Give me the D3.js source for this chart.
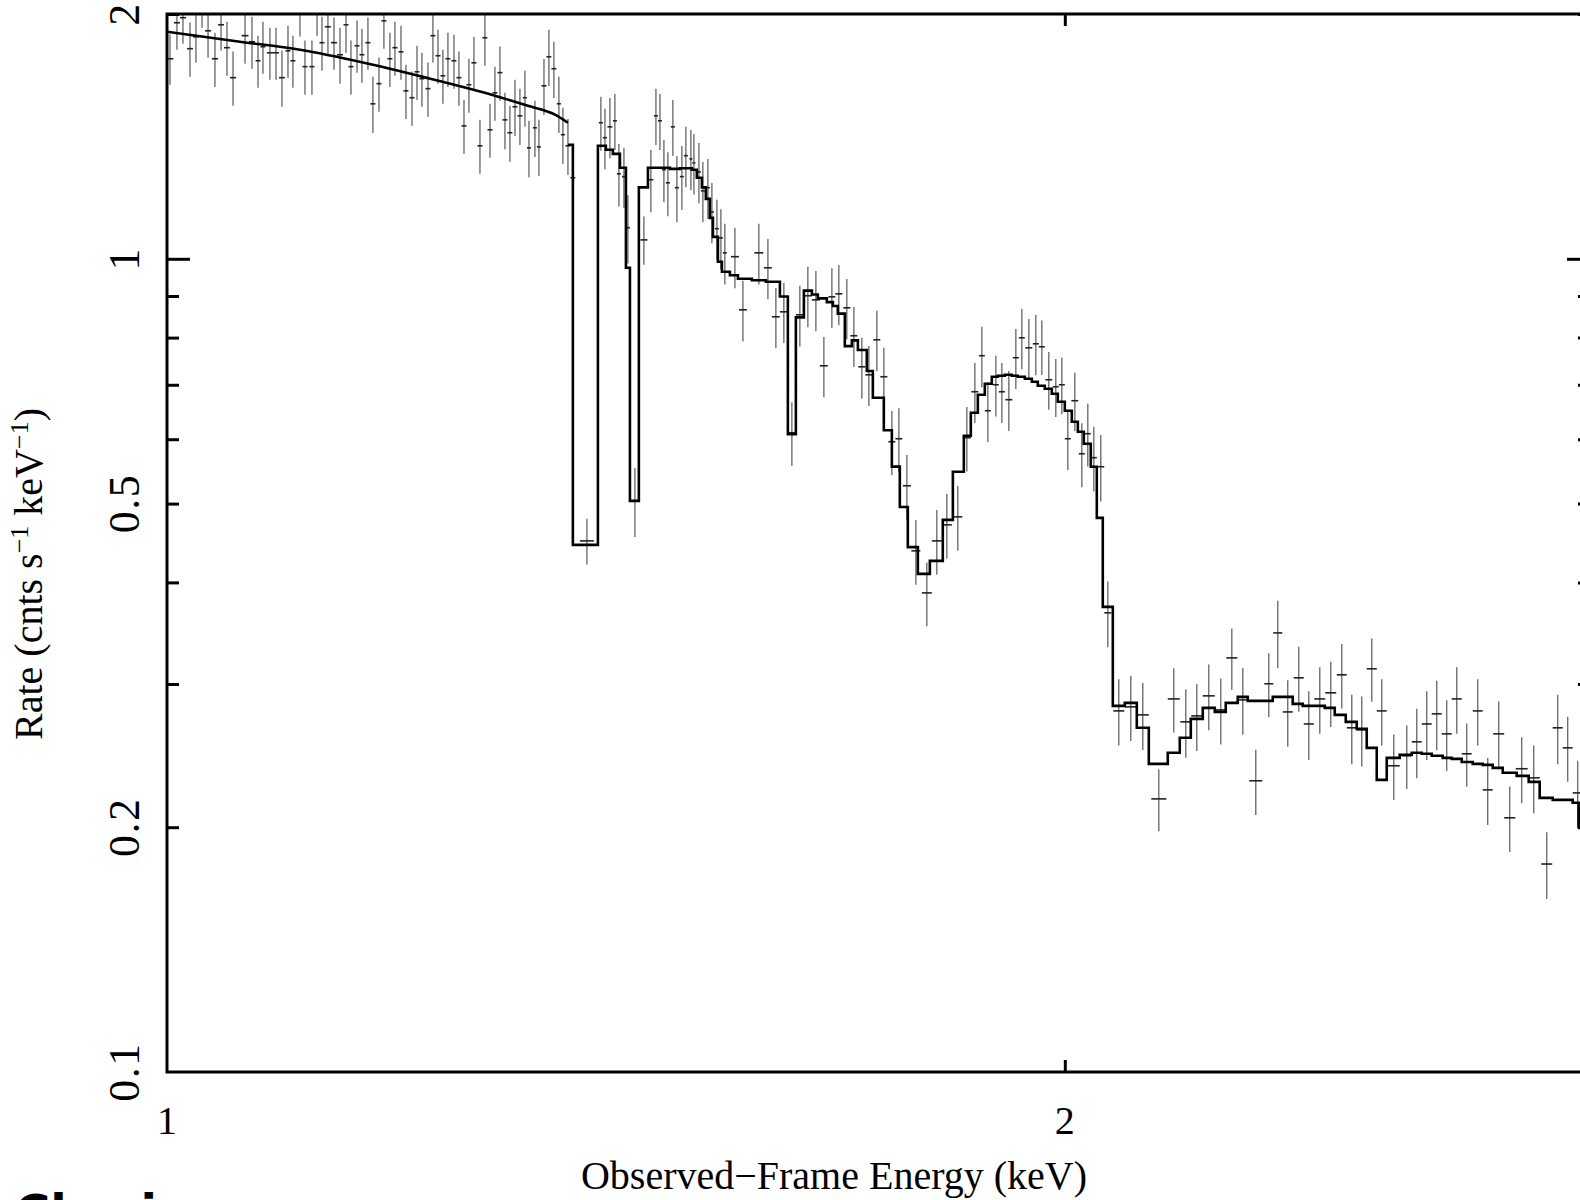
<!DOCTYPE html>
<html>
<head>
<meta charset="utf-8">
<script src="https://cdn.jsdelivr.net/npm/d3@7"></script>
<style>
  html, body { margin: 0; padding: 0; background: #ffffff; }
  svg { display: block; }
</style>
</head>
<body>
<div id="chart"></div>
<script>
// observed spectrum: bin centre (keV), rate and 1-sigma error (cnts/s/keV)
const energy = [
  1.0023, 1.0077, 1.0124, 1.0179, 1.0226, 1.0274, 1.0322, 1.0377, 1.0426, 1.0474,
  1.0523, 1.0621, 1.0678, 1.0728, 1.0769, 1.0827, 1.0878, 1.0928, 1.0979, 1.1021,
  1.1081, 1.1124, 1.1184, 1.1228, 1.1271, 1.1323, 1.1376, 1.1429, 1.1482, 1.1526,
  1.1580, 1.1624, 1.1678, 1.1723, 1.1778, 1.1823, 1.1878, 1.1924, 1.1980, 1.2026,
  1.2082, 1.2129, 1.2175, 1.2232, 1.2279, 1.2327, 1.2374, 1.2422, 1.2480, 1.2528,
  1.2577, 1.2625, 1.2674, 1.2733, 1.2782, 1.2832, 1.2881, 1.2931, 1.2981, 1.3031,
  1.3082, 1.3132, 1.3183, 1.3224, 1.3285, 1.3326, 1.3378, 1.3429, 1.3481, 1.3533,
  1.3575, 1.3628, 1.3680, 1.3829, 1.3979, 1.4023, 1.4077, 1.4131, 1.4175, 1.4230,
  1.4274, 1.4351, 1.4451, 1.4529, 1.4586, 1.4631, 1.4676, 1.4721, 1.4778, 1.4824,
  1.4881, 1.4927, 1.4985, 1.5020, 1.5078, 1.5124, 1.5183, 1.5230, 1.5289, 1.5336,
  1.5383, 1.5503, 1.5599, 1.5792, 1.5903, 1.6001, 1.6100, 1.6200, 1.6300, 1.6401,
  1.6503, 1.6605, 1.6708, 1.6798, 1.6902, 1.6994, 1.7099, 1.7192, 1.7298, 1.7392,
  1.7500, 1.7595, 1.7704, 1.7827, 1.7979, 1.8118, 1.8259, 1.8414, 1.8543, 1.8658,
  1.8759, 1.8846, 1.8963, 1.9051, 1.9154, 1.9258, 1.9347, 1.9452, 1.9557, 1.9648,
  1.9754, 1.9861, 1.9954, 2.0046, 2.0155, 2.0264, 2.0358, 2.0453, 2.0563, 2.0675,
  2.0851, 2.1045, 2.1241, 2.1505, 2.1755, 2.1958, 2.2145, 2.2351, 2.2559, 2.2752,
  2.2946, 2.3177, 2.3411, 2.3574, 2.3756, 2.3959, 2.4145, 2.4351, 2.4558, 2.4768,
  2.4960, 2.5153, 2.5348, 2.5544, 2.5782, 2.6042, 2.6244, 2.6447, 2.6652, 2.6858,
  2.7067, 2.7276, 2.7509, 2.7722, 2.7958, 2.8197, 2.8459, 2.8724, 2.9014, 2.9261,
  2.9488, 2.9716
];
const rate = [
  1.762, 1.951, 1.979, 1.813, 1.875, 2.071, 1.907, 1.762, 1.940, 1.818,
  1.670, 1.881, 1.849, 1.752, 1.823, 1.792, 1.792, 1.670, 1.802, 1.752,
  2.019, 1.723, 1.723, 2.024, 1.844, 1.929, 1.844, 1.782, 1.940, 1.723,
  1.828, 1.782, 1.844, 1.551, 1.642, 1.962, 1.762, 1.818, 1.797, 1.609,
  1.578, 1.698, 1.665, 1.619, 1.881, 1.777, 1.679, 1.762, 1.752, 1.670,
  1.457, 1.637, 1.742, 1.377, 1.870, 1.441, 1.600, 1.694, 1.482, 1.429,
  1.538, 1.499, 1.578, 1.369, 1.449, 1.373, 1.632, 1.772, 1.713, 1.551,
  1.421, 1.377, 1.258, 0.4499, 1.470, 1.409, 1.453, 1.478, 1.272, 1.262,
  1.092, 0.5039, 1.055, 1.251, 1.499, 1.478, 1.287, 1.240, 1.453, 1.223,
  1.262, 1.339, 1.327, 1.312, 1.279, 1.212, 1.223, 1.142, 1.089, 1.061,
  1.017, 1.006, 0.8655, 1.017, 0.9748, 0.8486, 0.8606, 0.6111, 0.8533, 0.9006,
  0.8903, 0.7386, 0.8979, 0.9056, 0.8704, 0.8042, 0.7365, 0.7200, 0.7951, 0.7161,
  0.5957, 0.6008, 0.5259, 0.4374, 0.3883, 0.4499, 0.4708, 0.4816, 0.6025, 0.6863,
  0.7600, 0.6504, 0.7000, 0.6863, 0.6710, 0.7557, 0.7996, 0.7773, 0.7861, 0.7795,
  0.7100, 0.6961, 0.7000, 0.6008, 0.6691, 0.5758, 0.6094, 0.5694, 0.5550, 0.3670,
  0.2780, 0.2812, 0.2749, 0.2167, 0.2876, 0.2695, 0.2741, 0.2901, 0.2788, 0.3230,
  0.2868, 0.2281, 0.3002, 0.3467, 0.2772, 0.3053, 0.2679, 0.2876, 0.2926, 0.3079,
  0.2650, 0.2635, 0.3132, 0.2780, 0.2380, 0.2448, 0.2547, 0.2679, 0.2757, 0.2605,
  0.2876, 0.2462, 0.2780, 0.2223, 0.2605, 0.2054, 0.2360, 0.2300, 0.1802, 0.2650,
  0.2504, 0.2204
];
const rateErr = [
  0.125, 0.144, 0.140, 0.139, 0.133, 0.147, 0.140, 0.135, 0.137, 0.139,
  0.128, 0.144, 0.136, 0.129, 0.134, 0.132, 0.132, 0.132, 0.133, 0.129,
  0.143, 0.132, 0.132, 0.143, 0.141, 0.142, 0.136, 0.141, 0.148, 0.132,
  0.135, 0.136, 0.136, 0.123, 0.126, 0.150, 0.135, 0.139, 0.137, 0.123,
  0.121, 0.130, 0.127, 0.124, 0.138, 0.136, 0.128, 0.135, 0.134, 0.128,
  0.111, 0.125, 0.133, 0.105, 0.143, 0.110, 0.122, 0.130, 0.118, 0.113,
  0.122, 0.119, 0.125, 0.109, 0.115, 0.109, 0.129, 0.141, 0.136, 0.123,
  0.113, 0.109, 0.114, 0.029, 0.112, 0.120, 0.124, 0.117, 0.112, 0.107,
  0.105, 0.049, 0.072, 0.110, 0.119, 0.117, 0.113, 0.112, 0.115, 0.114,
  0.114, 0.114, 0.113, 0.112, 0.109, 0.103, 0.104, 0.097, 0.093, 0.090,
  0.087, 0.086, 0.074, 0.087, 0.083, 0.072, 0.073, 0.055, 0.073, 0.077,
  0.076, 0.063, 0.076, 0.077, 0.074, 0.068, 0.063, 0.061, 0.068, 0.061,
  0.054, 0.054, 0.048, 0.040, 0.035, 0.041, 0.043, 0.044, 0.055, 0.058,
  0.065, 0.055, 0.060, 0.058, 0.057, 0.064, 0.068, 0.066, 0.067, 0.060,
  0.058, 0.057, 0.056, 0.051, 0.055, 0.052, 0.054, 0.052, 0.052, 0.034,
  0.026, 0.026, 0.026, 0.019, 0.026, 0.026, 0.026, 0.027, 0.026, 0.028,
  0.027, 0.021, 0.027, 0.033, 0.026, 0.028, 0.026, 0.027, 0.027, 0.028,
  0.026, 0.026, 0.028, 0.026, 0.022, 0.022, 0.025, 0.026, 0.027, 0.026,
  0.027, 0.022, 0.026, 0.021, 0.025, 0.019, 0.022, 0.022, 0.017, 0.026,
  0.023, 0.021
];

// folded model: smooth continuum part, then stepped part (left bin edge, value)
const modelCurveE = [1.0, 1.0580, 1.1081, 1.1642, 1.2175, 1.2881, 1.3213, 1.3492, 1.3628];
const modelCurveR = [1.902, 1.849, 1.807, 1.742, 1.675, 1.587, 1.542, 1.504, 1.470];
const modelStepE = [
  1.3628, 1.3680, 1.3947, 1.4033, 1.4109, 1.4186, 1.4252, 1.4296, 1.4395, 1.4496,
  1.4744, 1.4858, 1.4996, 1.5054, 1.5113, 1.5159, 1.5206, 1.5242, 1.5301, 1.5348,
  1.5443, 1.5539, 1.5707, 1.5878, 1.6051, 1.6150, 1.6250, 1.6351, 1.6452, 1.6528,
  1.6643, 1.6721, 1.6785, 1.6876, 1.6968, 1.7047, 1.7165, 1.7245, 1.7392, 1.7500,
  1.7608, 1.7717, 1.7855, 1.8021, 1.8202, 1.8344, 1.8500, 1.8600, 1.8701, 1.8802,
  1.8904, 1.8992, 1.9095, 1.9198, 1.9287, 1.9392, 1.9497, 1.9587, 1.9693, 1.9800,
  1.9892, 2.0000, 2.0108, 2.0202, 2.0295, 2.0405, 2.0500, 2.0595, 2.0755, 2.0948,
  2.1143, 2.1340, 2.1655, 2.1856, 2.2043, 2.2248, 2.2455, 2.2646, 2.2857, 2.3034,
  2.3483, 2.3848, 2.4033, 2.4445, 2.4634, 2.4844, 2.5056, 2.5250, 2.5446, 2.5643,
  2.5901, 2.6143, 2.6345, 2.6549, 2.6776, 2.6962, 2.7171, 2.7403, 2.7615, 2.7829,
  2.8045, 2.8349, 2.8613, 2.8857, 2.9148, 2.9602, 2.9739, 3.0
];
const modelStepR = [
  1.381, 0.4449, 1.377, 1.362, 1.346, 1.294, 0.9748, 0.5039, 1.224, 1.294,
  1.290, 1.292, 1.287, 1.258, 1.224, 1.185, 1.123, 1.064, 0.9916, 0.9638,
  0.9543, 0.9450, 0.9410, 0.9370, 0.8989, 0.6087, 0.8471, 0.9137, 0.9038, 0.8941,
  0.8845, 0.8749, 0.8562, 0.7810, 0.7937, 0.7725, 0.7278, 0.6748, 0.6154, 0.5552,
  0.4952, 0.4420, 0.4098, 0.4252, 0.4775, 0.5472, 0.6059, 0.6467, 0.6805, 0.7020,
  0.7161, 0.7180, 0.7200, 0.7180, 0.7161, 0.7120, 0.7060, 0.6981, 0.6922, 0.6824,
  0.6672, 0.6504, 0.6304, 0.6128, 0.5923, 0.5550, 0.4802, 0.3732, 0.2820, 0.2844,
  0.2650, 0.2393, 0.2469, 0.2576, 0.2718, 0.2804, 0.2772, 0.2844, 0.2893, 0.2860,
  0.2893, 0.2836, 0.2820, 0.2804, 0.2749, 0.2695, 0.2642, 0.2504, 0.2287, 0.2434,
  0.2455, 0.2469, 0.2462, 0.2448, 0.2434, 0.2427, 0.2406, 0.2393, 0.2386, 0.2366,
  0.2333, 0.2313, 0.2274, 0.2173, 0.2161, 0.2143, 0.2002, 0.2002
];

const xDomain = [1, 3];
const yDomain = [0.1, 2];
const xTickLabels = [1, 2];
const xMinorTicks = [2];
const yTickLabels = [0.1, 0.2, 0.5, 1, 2];
const yMajorTicks = [1];
const yMinorTicks = [0.2, 0.3, 0.4, 0.5, 0.6, 0.7, 0.8, 0.9, 2];

const width = 1580;
const height = 1200;
const margin = { left: 167, right: 1590, top: 14, bottom: 1072 };
const serif = "'Liberation Serif', 'Times New Roman', serif";

const svg = d3.select("#chart")
  .append("svg")
  .attr("width", width)
  .attr("height", height)
  .style("background", "#ffffff");

const xScale = d3.scaleLog().domain(xDomain).range([margin.left, margin.right]);
const yScale = d3.scaleLog().domain(yDomain).range([margin.bottom, margin.top]);

svg.append("clipPath").attr("id", "plotArea")
  .append("rect")
  .attr("x", margin.left).attr("y", margin.top)
  .attr("width", margin.right - margin.left).attr("height", margin.bottom - margin.top);

const plot = svg.append("g").attr("clip-path", "url(#plotArea)");

// data points with error bars
const points = energy.map((e, i) => {
  const dl = i > 0 ? Math.log(e / energy[i - 1]) : Infinity;
  const dr = i < energy.length - 1 ? Math.log(energy[i + 1] / e) : Infinity;
  const hw = Math.min(dl, dr) / 2;
  return { e, r: rate[i], err: rateErr[i], lo: e * Math.exp(-hw), hi: e * Math.exp(hw) };
});

plot.append("g")
  .selectAll("line")
  .data(points)
  .enter()
  .append("line")
  .attr("x1", d => xScale(d.e))
  .attr("x2", d => xScale(d.e))
  .attr("y1", d => yScale(d.r + d.err))
  .attr("y2", d => yScale(d.r - d.err))
  .attr("stroke", "#6f6f6f")
  .attr("stroke-width", 1.4);

plot.append("g")
  .selectAll("line")
  .data(points)
  .enter()
  .append("line")
  .attr("x1", d => xScale(d.lo))
  .attr("x2", d => xScale(d.hi))
  .attr("y1", d => yScale(d.r))
  .attr("y2", d => yScale(d.r))
  .attr("stroke", "#222")
  .attr("stroke-width", 1.6);

// model
const curveData = modelCurveE.map((e, i) => [e, modelCurveR[i]]);
const stepData = modelStepE.map((e, i) => [e, modelStepR[i]]);

plot.append("path")
  .datum(curveData)
  .attr("fill", "none")
  .attr("stroke", "#000")
  .attr("stroke-width", 2.6)
  .attr("d", d3.line().curve(d3.curveMonotoneX).x(d => xScale(d[0])).y(d => yScale(d[1])));

plot.append("path")
  .datum(stepData)
  .attr("fill", "none")
  .attr("stroke", "#000")
  .attr("stroke-width", 2.6)
  .attr("stroke-linejoin", "miter")
  .attr("d", d3.line().curve(d3.curveStepAfter).x(d => xScale(d[0])).y(d => yScale(d[1])));

// inward ticks on all four sides
function tickGroup(axis, tx, ty) {
  const g = svg.append("g").attr("transform", `translate(${tx},${ty})`).call(axis);
  g.select(".domain").remove();
  g.selectAll(".tick line").attr("stroke", "#000").attr("stroke-width", 3);
  g.selectAll(".tick text").remove();
  return g;
}
tickGroup(d3.axisLeft(yScale).tickValues(yMajorTicks).tickSize(-23), margin.left, 0);
tickGroup(d3.axisLeft(yScale).tickValues(yMinorTicks).tickSize(-12), margin.left, 0);
tickGroup(d3.axisRight(yScale).tickValues(yMajorTicks).tickSize(-23), margin.right, 0);
tickGroup(d3.axisRight(yScale).tickValues(yMinorTicks).tickSize(-12), margin.right, 0);
tickGroup(d3.axisBottom(xScale).tickValues(xMinorTicks).tickSize(-12), 0, margin.bottom);
tickGroup(d3.axisTop(xScale).tickValues(xMinorTicks).tickSize(-12), 0, margin.top);

// frame
svg.append("rect")
  .attr("x", margin.left).attr("y", margin.top)
  .attr("width", margin.right - margin.left).attr("height", margin.bottom - margin.top)
  .attr("fill", "none")
  .attr("stroke", "#000")
  .attr("stroke-width", 3);

// tick labels
svg.append("g")
  .selectAll("text")
  .data(xTickLabels)
  .enter()
  .append("text")
  .attr("x", d => xScale(d))
  .attr("y", 1134)
  .attr("text-anchor", "middle")
  .style("font-family", serif)
  .style("font-size", "40px")
  .text(d => d);

svg.append("g")
  .selectAll("text")
  .data(yTickLabels)
  .enter()
  .append("text")
  .attr("transform", d => `translate(139,${yScale(d)}) rotate(-90)`)
  .attr("text-anchor", "middle")
  .style("font-family", serif)
  .style("font-size", "44px")
  .style("letter-spacing", "1.5px")
  .text(d => d);

// axis titles
svg.append("text")
  .attr("x", 834)
  .attr("y", 1189)
  .attr("text-anchor", "middle")
  .style("font-family", serif)
  .style("font-size", "40px")
  .text("Observed\u2212Frame Energy (keV)");

const yTitle = svg.append("text")
  .attr("transform", "translate(42,574) rotate(-90)")
  .attr("text-anchor", "middle")
  .style("font-family", serif)
  .style("font-size", "40px");
yTitle.append("tspan").text("Rate (cnts s");
yTitle.append("tspan").attr("dy", -14).style("font-size", "26px").text("\u22121");
yTitle.append("tspan").attr("dy", 14).text(" keV");
yTitle.append("tspan").attr("dy", -14).style("font-size", "26px").text("\u22121");
yTitle.append("tspan").attr("dy", 14).text(")");

// partly visible caption below the figure
svg.append("text")
  .attr("x", 15)
  .attr("y", 1229)
  .style("font-family", "'DejaVu Sans', sans-serif")
  .style("font-weight", "bold")
  .style("font-size", "48px")
  .text("Chari");
</script>
</body>
</html>
